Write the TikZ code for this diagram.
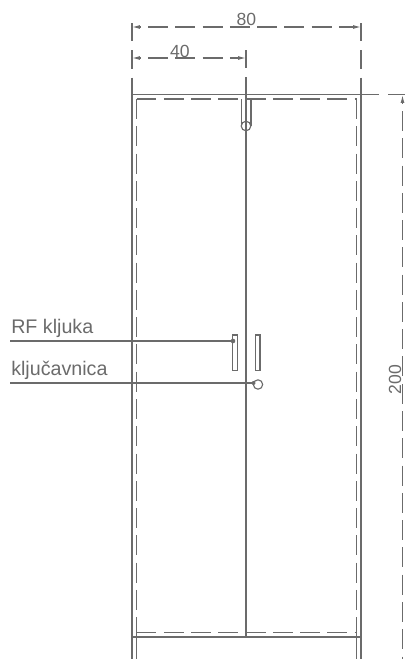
\documentclass[tikz,border=0pt]{standalone}
\usepackage{fontspec}
\setmainfont{Liberation Sans}
\usetikzlibrary{calc,arrows.meta}
\definecolor{drawgray}{gray}{0.42}
\tikzset{
	solidline/.style={draw=drawgray,line width=0.95pt},
	hiddenline/.style={draw=drawgray,line width=1.1pt,dash pattern=on 14.2pt off 5.2pt},
	dimline/.style={draw=drawgray,line width=0.8pt,dash pattern=on 14.2pt off 5.2pt,dash phase=13.2pt,{Latex[length=5.6pt,width=2.8pt]}-{Latex[length=5.6pt,width=2.8pt]}},
	extline/.style={draw=drawgray,line width=0.8pt,dash pattern=on 13pt off 6.4pt},
	leaderline/.style={draw=drawgray,line width=0.85pt},
	dimtext/.style={text=drawgray,font=\fontsize{12.5}{14}\selectfont,inner sep=0pt},
	labeltext/.style={text=drawgray,font=\fontsize{14}{16}\selectfont,inner sep=0pt,anchor=base west}
}
\begin{document}
\begin{tikzpicture}[x=0.25mm,y=-0.25mm]
	\useasboundingbox (0,0) rectangle (405,659);
	% cabinet corners
	\coordinate (topleft) at (132,94.5);
	\coordinate (topmid) at (246,94.5);
	\coordinate (topright) at (361,94.5);
	\coordinate (botleft) at (132,637);
	\coordinate (botmid) at (246,637);
	\coordinate (botright) at (361,637);
	\coordinate (endleft) at (132,659);
	\coordinate (endright) at (361,659);
	% outline
	\draw[solidline] (topleft) -- (topright);
	\draw[solidline] (botleft) -- (botright);
	\draw[solidline] (topleft) -- (endleft);
	\draw[solidline] (topright) -- (endright);
	\draw[solidline] (topmid) -- (botmid);
	\draw[solidline] (136.5,637) -- (136.5,659);
	\draw[solidline] (356.5,637) -- (356.5,659);
	% inner dashed frame
	\draw[hiddenline] (136.5,99) -- (136.5,637);
	\draw[hiddenline] (356.5,99) -- (356.5,637);
	\draw[hiddenline] (136.5,99) -- (356.5,99);
	\draw[hiddenline] (136.5,632.5) -- (356.5,632.5);
	% slot at the top
	\node[circle,solidline,line width=0.8pt,minimum size=9.6*0.709pt,inner sep=0pt] (topcircle) at (246,126) {};
	\draw[leaderline] (241.6,99) -- (241.6,126);
	\draw[leaderline] (251,99) -- (251,126);
	% handles
	\draw[leaderline] (232.8,335) rectangle (237.6,370.7);
	\draw[leaderline] (255.2,335) rectangle (260,370.7);
	% lock
	\node[circle,solidline,line width=0.8pt,minimum size=9.4*0.709pt,inner sep=0pt] (lockcircle) at (258,384.5) {};
	% leaders
	\coordinate (rfstart) at (10,341);
	\coordinate (rfend) at (233,341);
	\coordinate (lockstart) at (10,383);
	\coordinate (lockend) at (253.5,383);
	\draw[leaderline] (rfstart) -- (rfend);
	\draw[leaderline] (lockstart) -- (lockend);
	\fill[drawgray] (rfend) circle[radius=2.3];
	\fill[drawgray] (lockend) circle[radius=2];
	\node[labeltext] (rflabel) at (11,333) {RF kljuka};
	\node[labeltext] (locklabel) at (11,375) {ključavnica};
	% dimensions
	\coordinate (dimeightyl) at (132,27);
	\coordinate (dimeightyr) at (361,27);
	\coordinate (dimfortyl) at (132,58);
	\coordinate (dimfortyr) at (246,58);
	\coordinate (dimtwot) at (402.5,95);
	\coordinate (dimtwob) at (402.5,659);
	\draw[extline] (132,23) -- (topleft);
	\draw[extline] (361,23) -- (topright);
	\draw[extline] (246,50) -- (topmid);
	\draw[extline] (topright) -- (405,94.5);
	\draw[dimline] (dimeightyl) -- (dimeightyr);
	\draw[dimline] (dimfortyl) -- (dimfortyr);
	\draw[dimline,{Latex[length=5.6pt,width=2.8pt]}-] (dimtwot) -- (dimtwob);
	\node[dimtext] (eighty) at (246.5,19.5) {80};
	\node[dimtext] (forty) at (180,51) {40};
	\node[dimtext,rotate=90] (twohundred) at (395,379.5) {200};
\end{tikzpicture}
\end{document}
